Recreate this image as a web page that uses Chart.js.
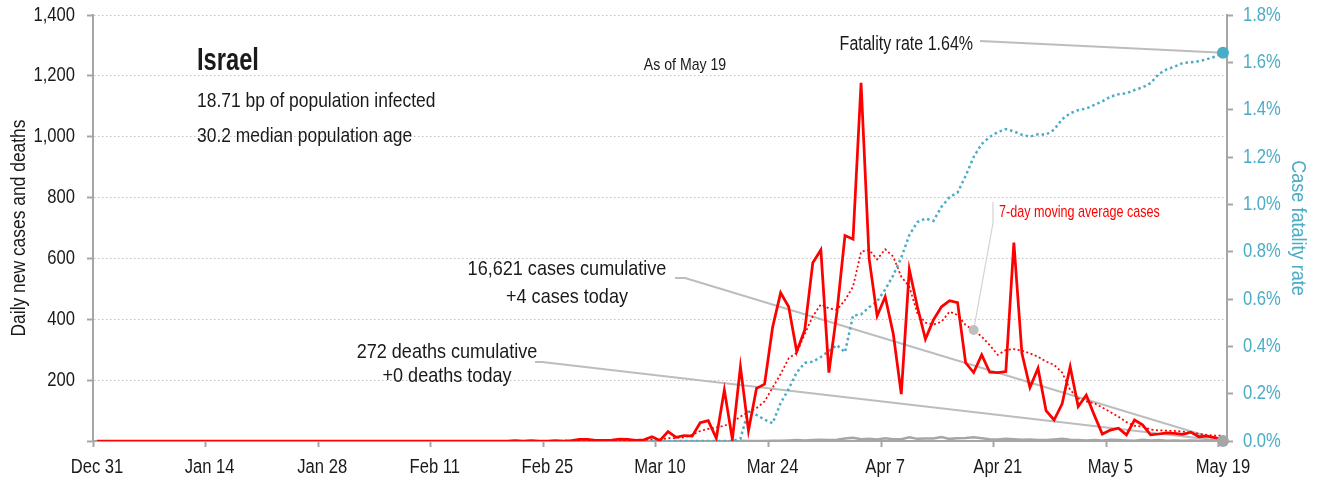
<!DOCTYPE html>
<html>
<head>
<meta charset="utf-8">
<title>Israel daily cases and deaths</title>
<script src="https://cdn.jsdelivr.net/npm/chart.js@4.4.1/dist/chart.umd.min.js"></script>
<style>
    html, body { margin: 0; padding: 0; background: #fff; }
    #wrap { width: 1319px; height: 482px; }
</style>
</head>
<body>
<div id="wrap"><canvas id="covidChart" width="1319" height="482"></canvas></div>
<script>
// one value per day, Dec 31 (index 0) through May 19 (index 140)
const tickLabels = ['Dec 31', 'Jan 14', 'Jan 28', 'Feb 11', 'Feb 25', 'Mar 10', 'Mar 24', 'Apr 7', 'Apr 21', 'May 5', 'May 19'];

const dailyCases = [
    0, 0, 0, 0, 0, 0, 0, 0, 0, 0,
    0, 0, 0, 0, 0, 0, 0, 0, 0, 0,
    0, 0, 0, 0, 0, 0, 0, 0, 0, 0,
    0, 0, 0, 0, 0, 0, 0, 0, 0, 0,
    0, 0, 0, 0, 0, 0, 0, 0, 0, 0,
    0, 0, 1, 0, 1, 0, 0, 1, 0, 1,
    5, 5, 2, 2, 3, 6, 5, 2, 4, 14,
    2, 31, 12, 18, 16, 60, 67, 9, 168, 5,
    244, 34, 173, 187, 374, 487, 441, 294, 365, 586,
    628, 225, 424, 675, 663, 1177, 600, 411, 474, 353,
    154, 564, 441, 335, 398, 441, 461, 455, 257, 225,
    283, 226, 225, 228, 652, 288, 176, 239, 100, 69,
    122, 244, 113, 151, 85, 23, 36, 42, 20, 69,
    53, 20, 23, 27, 25, 22, 29, 14, 16, 11,
    4
];

const movingAvgCases = [
    0, 0, 0, 0, 0, 0, 0, 0, 0, 0,
    0, 0, 0, 0, 0, 0, 0, 0, 0, 0,
    0, 0, 0, 0, 0, 0, 0, 0, 0, 0,
    0, 0, 0, 0, 0, 0, 0, 0, 0, 0,
    0, 0, 0, 0, 0, 0, 0, 0, 0, 0,
    0, 0, 0, 0, 0, 0, 0, 0, 1, 1,
    1, 2, 2, 2, 3, 3, 3, 4, 4, 5,
    5, 9, 10, 12, 20, 33, 40, 45, 50, 62,
    80, 95, 108, 130, 175, 220, 272, 290, 352, 410,
    449, 436, 431, 463, 507, 622, 628, 597, 630, 606,
    540, 507, 420, 389, 383, 392, 425, 414, 381, 365,
    343, 315, 283, 299, 302, 297, 288, 277, 261, 250,
    225, 168, 140, 130, 124, 110, 95, 80, 62, 50,
    47, 38, 35, 34, 33, 31, 27, 24, 20, 18,
    18
];

const dailyDeaths = [
    null, null, null, null, null, null, null, null, null, null,
    null, null, null, null, null, null, null, null, null, null,
    null, null, null, null, null, null, null, null, null, null,
    null, null, null, null, null, null, null, null, null, null,
    null, null, null, null, null, null, null, null, null, null,
    null, null, null, null, null, null, null, null, null, null,
    null, null, null, null, null, null, null, null, null, null,
    null, null, null, null, null, null, null, null, null, null,
    1, 0, 0, 0, 1, 1, 2, 3, 2, 3,
    4, 3, 4, 8, 11, 6, 7, 5, 9, 6,
    6, 12, 7, 8, 8, 13, 7, 9, 10, 12,
    9, 6, 5, 7, 6, 4, 5, 3, 3, 5,
    7, 4, 3, 2, 3, 2, 4, 3, 2, 1,
    4, 2, 3, 1, 2, 1, 2, 1, 2, 2,
    0
];

// case fatality rate in percent
const fatalityRate = [
    null, null, null, null, null, null, null, null, null, null,
    null, null, null, null, null, null, null, null, null, null,
    null, null, null, null, null, null, null, null, null, null,
    null, null, null, null, null, null, null, null, null, null,
    null, null, null, null, null, null, null, null, null, null,
    null, null, null, null, null, null, null, null, null, null,
    null, null, null, null, null, null, null, null, null, 0,
    0, 0, 0, 0, 0, 0, 0, 0, 0, 0,
    0.01, 0.13, 0.11, 0.09, 0.075, 0.16, 0.22, 0.29, 0.33, 0.335,
    0.355, 0.38, 0.405, 0.375, 0.53, 0.535, 0.565, 0.59, 0.64, 0.70,
    0.775, 0.87, 0.925, 0.94, 0.93, 0.99, 1.03, 1.05, 1.12, 1.2,
    1.255, 1.285, 1.305, 1.318, 1.308, 1.294, 1.286, 1.296, 1.295, 1.315,
    1.36, 1.385, 1.398, 1.405, 1.42, 1.435, 1.455, 1.465, 1.469, 1.483,
    1.494, 1.512, 1.55, 1.57, 1.582, 1.597, 1.6, 1.605, 1.613, 1.624,
    1.64
];

const days = dailyCases.map((_, i) => i);
const last = days.length - 1;
const labelDay = 109; // where the moving-average callout points

// Arial metrics squeezed horizontally to get a condensed face
const FONT = "'Liberation Sans', Arial, sans-serif";
const NARROW = 0.83;
const TEXT = '#1a1a1a';
const AXIS = '#a6a6a6';
const TEAL = '#4bacc6';
const RED = '#ff0000';
const LEADER = '#bdbdbd';

const sum = arr => arr.reduce((a, v) => a + (v || 0), 0);

function drawText(ctx, text, x, y, size, opts = {}) {
    ctx.save();
    ctx.font = `${opts.weight || 'normal'} ${size}px ${FONT}`;
    ctx.fillStyle = opts.color || TEXT;
    ctx.textAlign = opts.align || 'left';
    ctx.textBaseline = opts.baseline || 'alphabetic';
    ctx.translate(x, y);
    if (opts.rotate) ctx.rotate(opts.rotate);
    ctx.scale(opts.sx || NARROW, 1);
    ctx.fillText(text, 0, 0);
    ctx.restore();
}

function polyline(ctx, pts, color, width) {
    ctx.save();
    ctx.strokeStyle = color;
    ctx.lineWidth = width;
    ctx.lineJoin = 'round';
    ctx.beginPath();
    pts.forEach((p, i) => i ? ctx.lineTo(p[0], p[1]) : ctx.moveTo(p[0], p[1]));
    ctx.stroke();
    ctx.restore();
}

function dot(ctx, x, y, r, color) {
    ctx.save();
    ctx.fillStyle = color;
    ctx.beginPath();
    ctx.arc(x, y, r, 0, Math.PI * 2);
    ctx.fill();
    ctx.restore();
}

// tick labels and axis titles, drawn in the condensed face
const axisText = {
    id: 'axisText',
    afterDraw(chart) {
        const {ctx, scales: {x, y, y1}} = chart;
        y.ticks.forEach(t => {
            if (t.value === 0) return;
            drawText(ctx, t.value.toLocaleString('en-US'), y.right - 18, y.getPixelForValue(t.value), 20,
                {align: 'right', baseline: 'middle'});
        });
        y1.ticks.forEach(t => {
            drawText(ctx, t.value.toFixed(1) + '%', y1.left + 16, y1.getPixelForValue(t.value), 20,
                {color: TEAL, baseline: 'middle'});
        });
        x.ticks.forEach((t, i) => {
            drawText(ctx, tickLabels[i], x.getPixelForValue(t.value + 0.5), x.top + 32, 20, {align: 'center'});
        });
        const midY = (y.top + y.bottom) / 2;
        drawText(ctx, 'Daily new cases and deaths', 19, midY, 21,
            {align: 'center', baseline: 'middle', rotate: -Math.PI / 2});
        drawText(ctx, 'Case fatality rate', 1298, midY, 21,
            {align: 'center', baseline: 'middle', rotate: Math.PI / 2, color: TEAL, sx: 0.86});
    }
};

const callouts = {
    id: 'callouts',
    beforeDatasetsDraw(chart) {
        const {ctx, scales: {x, y, y1}} = chart;
        const endX = x.getPixelForValue(last);
        const zeroY = y.getPixelForValue(0);
        polyline(ctx, [[980, 41], [endX, y1.getPixelForValue(fatalityRate[last])]], LEADER, 2);
        polyline(ctx, [[675, 278], [685, 278], [endX, zeroY]], LEADER, 2);
        polyline(ctx, [[535, 362], [542, 362], [endX, zeroY]], LEADER, 2);
    },
    afterDatasetsDraw(chart) {
        const {ctx, scales: {x, y, y1}} = chart;
        const endX = x.getPixelForValue(last);
        const zeroY = y.getPixelForValue(0);

        // moving average callout
        const mx = x.getPixelForValue(labelDay);
        const my = y.getPixelForValue(movingAvgCases[labelDay]);
        polyline(ctx, [[993, 202], [993, 223], [mx, my]], '#d3d3d3', 1.2);
        dot(ctx, mx, my, 5, '#bfbfbf');
        drawText(ctx, '7-day moving average cases', 999, 217, 17, {color: RED, sx: 0.74});

        dot(ctx, endX, y1.getPixelForValue(fatalityRate[last]), 6, TEAL);
        dot(ctx, endX, zeroY, 6, AXIS);

        drawText(ctx, 'Israel', 197, 70, 32, {weight: 'bold', sx: 0.74});
        drawText(ctx, '18.71 bp of population infected', 197, 107, 21);
        drawText(ctx, '30.2 median population age', 197, 142, 21);
        drawText(ctx, 'As of May 19', 685, 70, 17, {align: 'center'});
        drawText(ctx, 'Fatality rate ' + fatalityRate[last].toFixed(2) + '%', 973, 50, 20, {align: 'right', sx: 0.8});

        drawText(ctx, sum(dailyCases).toLocaleString('en-US') + ' cases cumulative', 567, 275, 21, {align: 'center', sx: 0.86});
        drawText(ctx, '+' + dailyCases[last] + ' cases today', 567, 303, 21, {align: 'center', sx: 0.86});
        drawText(ctx, sum(dailyDeaths).toLocaleString('en-US') + ' deaths cumulative', 447, 358, 21, {align: 'center', sx: 0.86});
        drawText(ctx, '+' + dailyDeaths[last] + ' deaths today', 447, 382, 21, {align: 'center', sx: 0.86});
    }
};

const ctx = document.getElementById('covidChart').getContext('2d');
new Chart(ctx, {
    type: 'line',
    data: {
        labels: days,
        datasets: [{
            label: 'Daily deaths',
            data: dailyDeaths,
            borderColor: AXIS,
            borderWidth: 2.5,
            yAxisID: 'y'
        }, {
            label: 'Daily new cases',
            data: dailyCases,
            borderColor: RED,
            borderWidth: 2.75,
            yAxisID: 'y'
        }, {
            label: 'Case fatality rate',
            data: fatalityRate,
            borderColor: TEAL,
            borderWidth: 2.5,
            borderDash: [2.5, 3],
            yAxisID: 'y1'
        }, {
            label: '7-day moving average cases',
            data: movingAvgCases,
            borderColor: RED,
            borderWidth: 1.75,
            borderDash: [2, 2.5],
            yAxisID: 'y'
        }]
    },
    options: {
        responsive: false,
        animation: false,
        layout: { padding: { top: 15, left: 0, right: 0, bottom: 0 } },
        elements: {
            point: { radius: 0, hoverRadius: 0 },
            line: { tension: 0, fill: false }
        },
        scales: {
            x: {
                type: 'linear',
                min: -0.5,
                max: 140.5,
                // tick marks sit on day boundaries, labels on the day itself
                afterBuildTicks: axis => {
                    axis.ticks = tickLabels.map((_, k) => ({ value: k * 14 - 0.5 }));
                },
                afterFit: scale => { scale.height = 41; },
                ticks: { display: false, autoSkip: false },
                grid: { drawOnChartArea: false, tickLength: 6, tickColor: AXIS, tickWidth: 2 },
                border: { color: AXIS, width: 2 }
            },
            y: {
                type: 'linear',
                position: 'left',
                min: 0,
                max: 1400,
                afterFit: scale => { scale.width = 93; },
                ticks: { display: false, stepSize: 200 },
                grid: { color: '#c2c2c2', lineWidth: 1, tickLength: 6, tickColor: AXIS, tickWidth: 2, tickBorderDash: [] },
                border: { color: AXIS, width: 2, dash: [1.5, 2.5] }
            },
            y1: {
                type: 'linear',
                position: 'right',
                min: 0,
                max: 1.8,
                afterFit: scale => { scale.width = 92; },
                ticks: { display: false, stepSize: 0.2 },
                grid: { drawOnChartArea: false, tickLength: 6, tickColor: AXIS, tickWidth: 2 },
                border: { color: AXIS, width: 2 }
            }
        },
        plugins: {
            legend: { display: false },
            tooltip: { enabled: false }
        }
    },
    plugins: [callouts, axisText]
});
</script>
</body>
</html>
